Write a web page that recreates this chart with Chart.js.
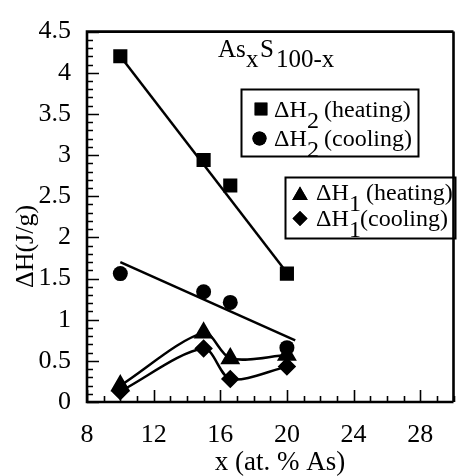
<!DOCTYPE html>
<html><head><meta charset="utf-8">
<script src="https://cdn.jsdelivr.net/npm/chart.js@4.4.1/dist/chart.umd.min.js"></script>
<style>
html,body{margin:0;padding:0;overflow:hidden;background:#fff;width:461px;height:476px}
#wrap{position:absolute;left:0;top:0;width:465px;height:476px}
</style>
</head><body><div id="wrap"><canvas id="c" width="465" height="476"></canvas></div>
<script>
// ---- data ----
const compositions = [10, 15, 16.6, 20];          // x (at. % As)
const dH2Heating = [4.20, 2.94, 2.63, 1.56];       // squares
const dH2Cooling = [1.56, 1.34, 1.21, 0.66];       // circles
const dH1Heating = [0.20, 0.84, 0.53, 0.57];       // triangles
const dH1Cooling = [0.13, 0.65, 0.28, 0.43];       // diamonds
const fitH2HeatingX = [10, 20];
const fitH2HeatingY = [4.20, 1.57];
const fitH2CoolingX = [10, 20.5];
const fitH2CoolingY = [1.70, 0.75];
const xTickLabels = [8, 12, 16, 20, 24, 28];
const yTickLabels = [0, 0.5, 1, 1.5, 2, 2.5, 3, 3.5, 4, 4.5];

const FONT = '"Liberation Serif", "Times New Roman", serif';
const pts = (xs, ys) => xs.map((x, i) => ({x: x, y: ys[i]}));

const frameTicks = {
  id: 'frameTicks',
  afterDraw(chart) {
    const ctx = chart.ctx, a = chart.chartArea;
    const xs = chart.scales.x, ys = chart.scales.y;
    ctx.save();
    ctx.strokeStyle = '#000';
    // ticks (inward)
    ctx.lineWidth = 1.6;
    ctx.beginPath();
    for (let k = 0; k <= 45; k++) {
      const v = k / 10, py = Math.round(ys.getPixelForValue(v)) + 0.5;
      const len = (k % 5 === 0) ? 12 : 6;
      ctx.moveTo(a.left, py); ctx.lineTo(a.left + len, py);
    }
    for (let v = 8; v <= 30; v++) {
      const px = Math.round(xs.getPixelForValue(v)) + 0.5;
      const len = (v % 4 === 0) ? 12 : 6;
      ctx.moveTo(px, a.bottom); ctx.lineTo(px, a.bottom - len);
    }
    ctx.stroke();
    // frame
    ctx.lineWidth = 2.6;
    ctx.beginPath();
    ctx.moveTo(a.left, a.top); ctx.lineTo(a.right, a.top);
    ctx.moveTo(a.left, a.top - 1.3); ctx.lineTo(a.left, a.bottom + 1.3);
    ctx.moveTo(a.left, a.bottom); ctx.lineTo(a.right, a.bottom);
    ctx.moveTo(a.right, a.top); ctx.lineTo(a.right, a.bottom);
    ctx.stroke();

    ctx.fillStyle = '#000';
    ctx.textBaseline = 'alphabetic';
    ctx.textAlign = 'left';
    // title As_x S_100-x
    ctx.font = '25px ' + FONT;
    ctx.fillText('As', 218, 57);
    ctx.fillText('x', 246, 67);
    ctx.fillText('S', 260, 57);
    ctx.fillText('100-x', 276, 67);

    // legend boxes
    ctx.lineWidth = 2;
    ctx.strokeRect(241.5, 89.5, 177, 67);
    ctx.strokeRect(285.5, 177.5, 170, 61);
    const H = Chart.helpers;
    const mk = (style, r, x, y) => {
      H.drawPoint(ctx, {pointStyle: style, radius: r, rotation: 0, borderWidth: 0}, x, y);
      ctx.fill();
    };
    ctx.fillStyle = '#000';
    mk('rect', 9, 261, 109);
    mk('circle', 7, 259.5, 138.5);
    mk('triangle', 9, 300, 195.5);
    mk('rectRot', 7.5, 300, 218.5);

    ctx.font = '24px ' + FONT;
    const row = (x0, base, sub, subX, rest, restX) => {
      ctx.fillText('\u0394H', x0, base);
      ctx.fillText(sub, subX, base + 11);
      ctx.fillText(rest, restX, base);
    };
    row(274, 117, '2', 307, '(heating)', 324);
    row(274, 145.5, '2', 307, '(cooling)', 324);
    row(316, 200, '1', 349, '(heating)', 366);
    row(316, 225.5, '1', 349, '(cooling)', 360);

    // axis titles
    ctx.font = '27px ' + FONT;
    ctx.textAlign = 'center';
    ctx.fillText('x (at. % As)', 280, 470);
    ctx.save();
    ctx.font = '26px ' + FONT;
    ctx.translate(33, 246.5);
    ctx.rotate(-Math.PI / 2);
    ctx.fillText('\u0394H(J/g)', 0, 0);
    ctx.restore();
    ctx.restore();
  }
};

const lineDS = (data, extra) => Object.assign({
  data: data, showLine: true, borderColor: '#000', borderWidth: 2.5,
  pointRadius: 0, pointHoverRadius: 0, fill: false
}, extra || {});
const markDS = (data, style, r, extra) => Object.assign({
  data: data, showLine: false, pointStyle: style, pointRadius: r, pointHoverRadius: r,
  backgroundColor: '#000', borderColor: '#000', borderWidth: 0
}, extra || {});

new Chart(document.getElementById('c'), {
  type: 'scatter',
  data: {
    datasets: [
      markDS(pts(compositions, dH2Heating), 'rect', 10),
      markDS(pts(compositions, dH2Cooling), 'circle', 7.5),
      markDS(pts(compositions, dH1Heating), 'triangle', 9,
             {showLine: true, borderWidth: 2.5, tension: 0.3}),
      markDS(pts(compositions, dH1Cooling), 'rectRot', 7.5,
             {showLine: true, borderWidth: 2.5, tension: 0.3}),
      lineDS(pts(fitH2HeatingX, fitH2HeatingY)),
      lineDS(pts(fitH2CoolingX, fitH2CoolingY))
    ]
  },
  options: {
    responsive: false,
    animation: false,
    events: [],
    layout: {padding: {top: 22, left: 0, right: 0, bottom: 0}},
    plugins: {legend: {display: false}, tooltip: {enabled: false}, title: {display: false}},
    scales: {
      x: {
        type: 'linear', min: 8, max: 30,
        grid: {display: false, drawTicks: false},
        border: {display: false},
        afterBuildTicks(s) { s.ticks = xTickLabels.map(v => ({value: v})); },
        afterFit(s) { s.height = 74; },
        ticks: {font: {family: FONT, size: 26}, color: '#000', padding: 18,
                maxRotation: 0, autoSkip: false, callback: v => String(v)}
      },
      y: {
        type: 'linear', min: 0, max: 4.5,
        grid: {display: false, drawTicks: false},
        border: {display: false},
        afterBuildTicks(s) { s.ticks = yTickLabels.map(v => ({value: v})); },
        afterFit(s) { s.width = 87; },
        ticks: {font: {family: FONT, size: 26}, color: '#000', padding: 16,
                autoSkip: false, callback: v => String(v)}
      }
    }
  },
  plugins: [frameTicks]
});
</script>
</body></html>
